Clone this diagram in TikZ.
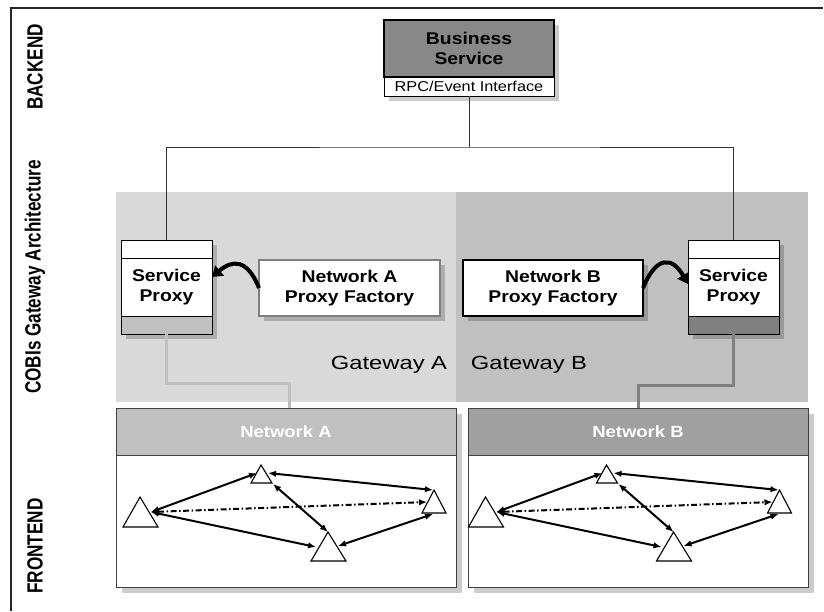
\documentclass[tikz,border=0pt]{standalone}
\usepackage{fontspec}
\setmainfont{Liberation Sans}[FakeStretch=1.25]
\newfontfamily\dgBoldFam{Liberation Sans}[FakeStretch=1.14]
\newfontfamily\dgVertFam{Liberation Sans}[FakeStretch=0.78]
\usetikzlibrary{arrows.meta}
\definecolor{gwA}{HTML}{D9D9D9}
\definecolor{gwB}{HTML}{C0C0C0}
\definecolor{lgray}{HTML}{C0C0C0}
\definecolor{mgray}{HTML}{808080}
\definecolor{bsgray}{HTML}{888888}
\definecolor{netBhead}{HTML}{A0A0A0}
\newcommand{\dgBig}{\dgBoldFam\fontsize{17}{20}\selectfont\bfseries}
\newcommand{\dgRpc}{\dgBoldFam\fontsize{14.3}{16}\selectfont}
\newcommand{\dgBox}{\dgBoldFam\fontsize{17}{20}\selectfont\bfseries}
\newcommand{\dgGw}{\fontsize{19}{22}\selectfont}
\newcommand{\dgNet}{\dgBoldFam\fontsize{16.2}{19}\selectfont\bfseries}
\newcommand{\dgVert}{\dgVertFam\fontsize{22}{25}\selectfont\bfseries}
\begin{document}
\begin{tikzpicture}[x=1pt,y=-1pt,
  shade/.style={fill=black,opacity=0.2},
  rbox/.style={draw=black,fill=white,inner sep=0pt,outer sep=0pt,anchor=north west,align=center},
  pbox/.style={rbox,line width=0.9pt,minimum width=91pt},
  fbox/.style={rbox,line width=1.8pt,minimum height=56pt,font=\dgBox},
  nhead/.style={rbox,draw=black!75,line width=0.8pt,minimum width=340pt,minimum height=47pt,font=\dgNet,text=white},
  nbody/.style={rbox,draw=black!75,line width=0.8pt,minimum width=340pt,minimum height=132pt},
  wire/.style={draw=black!80,line width=0.8pt},
  curv/.style={line width=4pt,-{Triangle[length=10pt,width=13pt]}},
  linkA/.style={draw=lgray,line width=3pt},
  linkB/.style={draw=mgray,line width=3pt},
  tri/.style={draw=black,fill=white,line width=1.1pt,line join=miter},
  narr/.style={line width=2pt,{Latex[length=8pt,width=6.5pt]}-{Latex[length=8pt,width=6.5pt]}},
  ndash/.style={narr,dash pattern=on 6pt off 2.5pt on 1.5pt off 2.5pt}
]
\useasboundingbox (0,0) rectangle (824,611);
\fill[white] (0,0) rectangle (824,611);

% frame
\draw[line width=1.6pt,black!85] (11,611) -- (11,8) -- (823,8);

% side labels
\node[rotate=90,font=\dgVert] (lblBack) at (35,67) {BACKEND};
\node[rotate=90,font=\dgVert] (lblGw) at (35,277) {COBIs Gateway Architecture};
\node[rotate=90,font=\dgVert] (lblFront) at (35,546) {FRONTEND};

% gateway areas
\fill[gwA] (116,192) rectangle (456,402);
\fill[gwB] (456,192) rectangle (808,402);

% business service
\fill[shade] (389,25) rectangle (559,101);
\node[rbox,fill=bsgray,line width=1.8pt,minimum width=170pt,minimum height=57pt,font=\dgBig] (bs) at (384,20) {Business\\Service};
\node[rbox,line width=0.8pt,minimum width=170pt,minimum height=19pt,font=\dgRpc] (rpc) at (384,77) {RPC/Event Interface};

% service proxies
\fill[shade] (126,245) rectangle (217,339);
\node[pbox,minimum height=18pt] (pAt) at (121,240) {};
\node[pbox,minimum height=58pt,font=\dgBox] (pAm) at (121,258) {Service\\Proxy};
\node[pbox,minimum height=18pt,fill=lgray] (pAb) at (121,316) {};

\fill[shade] (693,245) rectangle (784,339);
\node[pbox,minimum height=18pt] (pBt) at (688,240) {};
\node[pbox,minimum height=58pt,font=\dgBox] (pBm) at (688,258) {Service\\Proxy};
\node[pbox,minimum height=18pt,fill=mgray] (pBb) at (688,316) {};

% proxy factories
\fill[shade] (264,265) rectangle (445,321);
\node[fbox,draw=mgray,minimum width=181pt] (fA) at (259,260) {Network A\\Proxy Factory};
\fill[shade] (468,265) rectangle (648,321);
\node[fbox,minimum width=180pt] (fB) at (463,260) {Network B\\Proxy Factory};

% backend wiring
\coordinate (bus) at (469,147);
\draw[wire] (rpc.south) -- (bus);
\draw[wire] (pAt.north) |- (bus) -| (pBt.north);

% factory arrows
\draw[curv] (fA.west) .. controls (247,258) and (232,260) .. ([yshift=10pt]pAm.east);
\draw[curv] (fB.east) .. controls (656,256) and (672,256) .. ([yshift=3pt]pBm.west);

% gateway labels
\node[font=\dgGw] (gA) at (389,365) {Gateway A};
\node[font=\dgGw] (gB) at (529,365) {Gateway B};

% networks
\fill[shade] (122,414) rectangle (462,593);
\node[nhead,fill=lgray] (nAh) at (116,408) {Network A};
\node[nbody] (nAb) at (116,455) {};
\fill[shade] (474,414) rectangle (814,593);
\node[nhead,fill=netBhead] (nBh) at (468,408) {Network B};
\node[nbody] (nBb) at (468,455) {};

% network links
\draw[linkA] (pAb.south) -- ++(0,49) -| ([xshift=3pt]nAh.north);
\draw[linkB] (pBb.south) -- ++(0,51) -| ([xshift=0pt]nBh.north);

% mesh nodes
\foreach \n/\dx in {A/0,B/345.5}{
  \draw[tri] ({140+\dx},497) -- ({123+\dx},527) -- ({158+\dx},527) -- cycle;
  \draw[tri] ({261+\dx},465) -- ({251+\dx},483) -- ({272+\dx},483) -- cycle;
  \draw[tri] ({328+\dx},532) -- ({311+\dx},561) -- ({346+\dx},561) -- cycle;
  \draw[tri] ({434+\dx},490) -- ({422+\dx},513) -- ({446+\dx},513) -- cycle;
  \coordinate (\n p) at ({151+\dx},512);
  \coordinate (\n qa) at ({257+\dx},473);
  \coordinate (\n qb) at ({268+\dx},473);
  \coordinate (\n qc) at ({273+\dx},484);
  \coordinate (\n ra) at ({316+\dx},547);
  \coordinate (\n rb) at ({328+\dx},532);
  \coordinate (\n rc) at ({338+\dx},546);
  \coordinate (\n sa) at ({433+\dx},490);
  \coordinate (\n sb) at ({427+\dx},502);
  \coordinate (\n sc) at ({433+\dx},514);
  \draw[narr] (\n p) -- (\n qa);
  \draw[narr] (\n p) -- (\n ra);
  \draw[ndash] (\n p) -- (\n sb);
  \draw[narr] (\n qb) -- (\n sa);
  \draw[narr] (\n qc) -- (\n rb);
  \draw[narr] (\n rc) -- (\n sc);
}
\end{tikzpicture}
\end{document}
